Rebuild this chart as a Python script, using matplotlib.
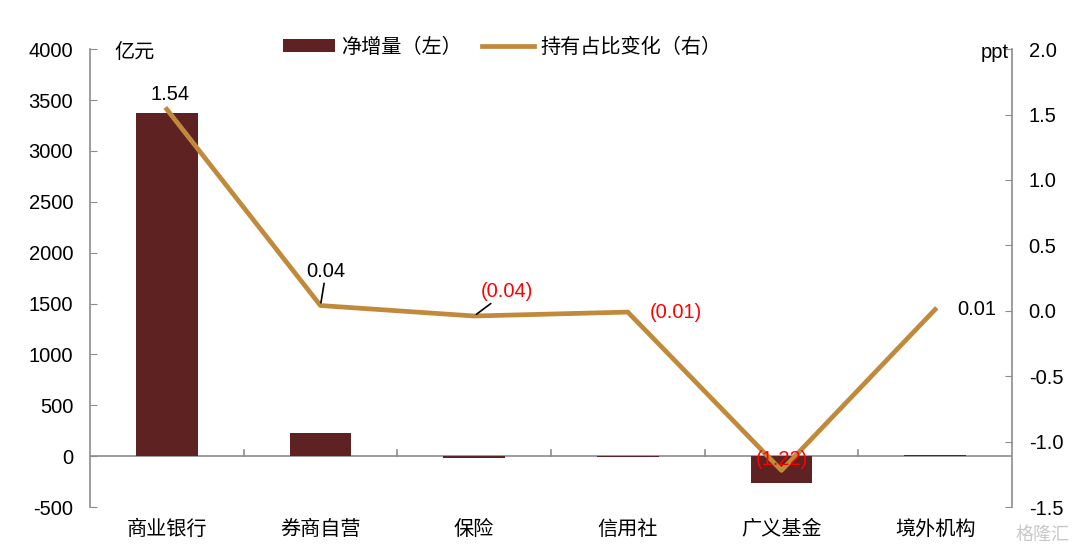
import numpy as np
import matplotlib.pyplot as plt

plt.rcParams['font.family'] = ['Liberation Sans', 'Noto Sans CJK SC', 'DejaVu Sans']
plt.rcParams['axes.unicode_minus'] = False

# 数据
jigou = ["商业银行", "券商自营", "保险", "信用社", "广义基金", "境外机构"]
jingzeng = [3370, 225, -15, -10, -265, 15]          # 亿元
zhanbi = [1.54, 0.04, -0.04, -0.01, -1.22, 0.01]   # ppt
biaoqian = ["1.54", "0.04", "(0.04)", "(0.01)", "(1.22)", "0.01"]

bar_c = "#5E2222"
line_c = "#C08A3A"
axis_c = "#8C8C8C"
fs = 14.5

fig = plt.figure(figsize=(10.8, 5.52), dpi=100)
ax = fig.add_axes([0.0833, 0.0815, 0.8537, 0.8295])
ax2 = ax.twinx()

x = np.arange(len(jigou))
ax.bar(x, jingzeng, width=0.4, color=bar_c, label="净增量（左）", zorder=2)
ax2.plot(x, zhanbi, color=line_c, lw=3.4, label="持有占比变化（右）", zorder=3)

ax.set_xlim(-0.5, len(jigou) - 0.5)
ax.set_ylim(-500, 4000)
ax.set_yticks(np.arange(-500, 4001, 500))
ax2.set_ylim(-1.5, 2.0)
ax2.set_yticks(np.arange(-1.5, 2.01, 0.5))
ax2.set_yticklabels([f"{v:.1f}" for v in np.arange(-1.5, 2.01, 0.5)])

# 坐标轴样式
for a in (ax, ax2):
    for s in a.spines.values():
        s.set_visible(False)
ax.spines['left'].set_visible(True)
ax.spines['left'].set_color(axis_c)
ax.spines['left'].set_linewidth(1.2)
ax2.spines['right'].set_visible(True)
ax2.spines['right'].set_color(axis_c)
ax2.spines['right'].set_linewidth(1.2)
ax.axhline(0, color=axis_c, lw=1.2, zorder=1)

ax.tick_params(axis='y', direction='in', length=5, color=axis_c, labelsize=fs, pad=12)
ax2.tick_params(axis='y', direction='in', length=5, color=axis_c, labelsize=fs, pad=12)
ax.set_xticks(x)
ax.set_xticklabels(jigou, fontsize=fs)
ax.tick_params(axis='x', length=0, pad=9)
# 分类之间的小刻度（位于0轴上）
for b in x[:-1] + 0.5:
    ax.plot([b, b], [0, 60], color=axis_c, lw=1.2, zorder=1)

# 数据标签
ax2.annotate(biaoqian[0], (x[0], zhanbi[0]), xytext=(2, 4), textcoords='offset points',
             ha='center', va='bottom', fontsize=fs)
ax2.annotate(biaoqian[1], (x[1], zhanbi[1]), xytext=(-10, 18), textcoords='offset points',
             ha='left', va='bottom', fontsize=fs,
             arrowprops=dict(arrowstyle='-', color='black', lw=1.2, shrinkA=0, shrinkB=2))
ax2.annotate(biaoqian[2], (x[2], zhanbi[2]), xytext=(5, 11), textcoords='offset points',
             ha='left', va='bottom', fontsize=fs, color='red',
             arrowprops=dict(arrowstyle='-', color='black', lw=1.2, shrinkA=0, shrinkB=2))
ax2.annotate(biaoqian[3], (x[3], zhanbi[3]), xytext=(16, 0), textcoords='offset points',
             ha='left', va='center', fontsize=fs, color='red')
ax2.annotate(biaoqian[4], (x[4], zhanbi[4]), xytext=(0, 8), textcoords='offset points',
             ha='center', va='center', fontsize=fs, color='red')
ax2.annotate(biaoqian[5], (x[5], zhanbi[5]), xytext=(16, 0), textcoords='offset points',
             ha='left', va='center', fontsize=fs)

# 单位
fig.text(0.106, 0.905, "亿元", fontsize=fs, va='center')
fig.text(0.934, 0.905, "ppt", fontsize=fs, va='center', ha='right')

# 图例
h1, l1 = ax.get_legend_handles_labels()
h2, l2 = ax2.get_legend_handles_labels()
fig.legend(h1 + h2, l1 + l2, loc='center', bbox_to_anchor=(0.465, 0.915), ncol=2,
           frameon=False, fontsize=fs, handlelength=2.6, handleheight=0.6,
           columnspacing=1.0, handletextpad=0.3)

fig.text(0.99, 0.015, "格隆汇", fontsize=13, color="#C8C8C8", ha='right', va='bottom')

fig.savefig("out.png", dpi=100)
